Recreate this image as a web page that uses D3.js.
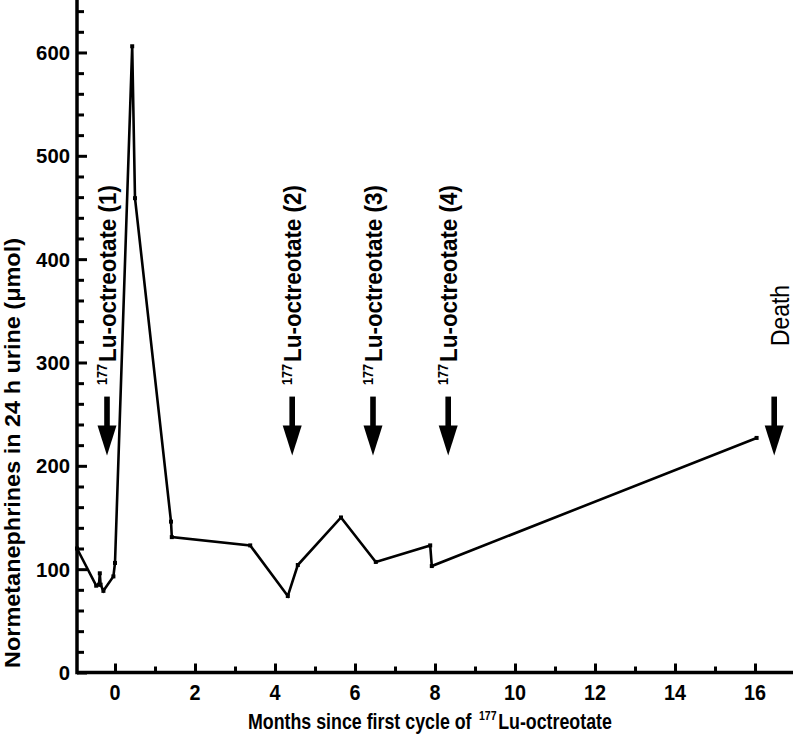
<!DOCTYPE html>
<html>
<head>
<meta charset="utf-8">
<script src="https://cdn.jsdelivr.net/npm/d3@7"></script>
<style>
  html, body { margin: 0; padding: 0; background: #fff; }
  svg { display: block; }
  .lbl { font-family: "Liberation Sans Narrow", "Arial Narrow", "Liberation Sans", Arial, sans-serif; font-weight: bold; fill: #000; }
  .tk { font-family: "Liberation Sans", Arial, sans-serif; font-weight: bold; fill: #000; }
</style>
</head>
<body>
<svg id="chart" width="793" height="741"></svg>
<script>
// ---- data ----
const months = [-0.95, -0.47, -0.40, -0.38, -0.36, -0.29, -0.04, 0.0, 0.43, 0.50, 1.40, 1.42, 3.38, 4.32, 4.57, 5.65, 6.52, 7.88, 7.92, 16.04];
const values = [120, 84, 85, 96, 85, 79, 93, 106, 606, 459, 146, 131, 123, 74, 104, 150, 107, 123, 103, 227];
const eventMonths = [-0.2, 4.43, 6.45, 8.33];
const eventLabels = ["(1)", "(2)", "(3)", "(4)"];
const deathMonth = 16.48;
const deathLabel = "Death";
const arrowValues = [267, 210]; // arrow top / tip in µmol units
const xMajorTicks = [0, 2, 4, 6, 8, 10, 12, 14, 16];
const xMinorTicks = [1, 3, 5, 7, 9, 11, 13, 15];
const yMajorTicks = [0, 100, 200, 300, 400, 500, 600];
const yMinorTicks = d3.range(0, 641, 20).filter(v => v % 100 !== 0);
const xTitle = ["Months since first cycle of", "177", "Lu-octreotate"];
const yTitle = "Normetanephrines in 24 h urine (\u03BCmol)";

// ---- scales ----
const svg = d3.select("#chart");
const x = d3.scaleLinear().domain([-0.95, 16.95]).range([77, 793]);
const y = d3.scaleLinear().domain([0, 650]).range([672.5, 0.8]);

const axisG = svg.append("g");

// axis lines
axisG.append("line").attr("x1", x(-0.95)).attr("x2", x(16.95)).attr("y1", y(0)).attr("y2", y(0))
  .attr("stroke", "#000").attr("stroke-width", 3.5);
axisG.append("line").attr("x1", x(-0.95)).attr("x2", x(-0.95)).attr("y1", y(0) + 1.7).attr("y2", 0)
  .attr("stroke", "#000").attr("stroke-width", 3.5);

// x ticks (inward)
const xAxisMajor = d3.axisTop(x).tickValues(xMajorTicks).tickSize(9).tickFormat("");
const xAxisMinor = d3.axisTop(x).tickValues(xMinorTicks).tickSize(6).tickFormat("");
[xAxisMajor, xAxisMinor].forEach(ax => {
  const g = axisG.append("g").attr("transform", `translate(0,${y(0)})`).call(ax);
  g.select(".domain").remove();
  g.selectAll(".tick line").attr("stroke", "#000").attr("stroke-width", 3);
});
// y ticks (inward)
const yAxisMajor = d3.axisRight(y).tickValues(yMajorTicks).tickSize(10).tickFormat("");
const yAxisMinor = d3.axisRight(y).tickValues(yMinorTicks).tickSize(7).tickFormat("");
[yAxisMajor, yAxisMinor].forEach(ax => {
  const g = axisG.append("g").attr("transform", `translate(${x(-0.95)},0)`).call(ax);
  g.select(".domain").remove();
  g.selectAll(".tick line").attr("stroke", "#000").attr("stroke-width", 3);
});

// tick labels
axisG.selectAll(".xl").data(xMajorTicks).enter().append("text")
  .attr("class", "lbl").attr("x", d => x(d)).attr("y", 700)
  .attr("text-anchor", "middle").attr("font-size", 22)
  .attr("textLength", d => String(d).length * 11).attr("lengthAdjust", "spacingAndGlyphs")
  .text(d => d);
axisG.selectAll(".yl").data(yMajorTicks).enter().append("text")
  .attr("class", "tk").attr("x", 70).attr("y", d => y(d) + 7.5)
  .attr("text-anchor", "end").attr("font-size", 20)
  .attr("textLength", d => String(d).length * 11.3).attr("lengthAdjust", "spacingAndGlyphs")
  .text(d => d);

// x title: three pieces laid out by measured width, then the group is squeezed horizontally
const xtOuter = svg.append("g").attr("transform", "translate(248,729)");
const xt = xtOuter.append("g");
const sizes = [22, 13, 22], dys = [0, -9, 0];
let cursor = 0;
const gaps = [9, 2, 0];
xTitle.forEach((s, i) => {
  const t = xt.append("text").attr("class", "lbl").attr("x", cursor).attr("y", dys[i])
    .attr("font-size", sizes[i]).text(s);
  cursor += t.node().getComputedTextLength() + gaps[i];
});
xt.attr("transform", `scale(${364 / cursor},1)`);

svg.append("text").attr("class", "tk")
  .attr("transform", "translate(20,668) rotate(-90)")
  .attr("font-size", 22).attr("textLength", 430).attr("lengthAdjust", "spacingAndGlyphs")
  .text(yTitle);

// ---- data line ----
const pts = months.map((m, i) => [m, values[i]]);
svg.append("path").datum(pts)
  .attr("d", d3.line().x(d => x(d[0])).y(d => y(d[1])))
  .attr("fill", "none").attr("stroke", "#000").attr("stroke-width", 2.6).attr("stroke-linejoin", "miter");
svg.selectAll(".mk").data(pts).enter().append("rect")
  .attr("x", d => x(d[0]) - 2).attr("y", d => y(d[1]) - 2).attr("width", 4).attr("height", 4).attr("fill", "#000");

// ---- arrows ----
function arrow(m) {
  const cx = x(m), top = y(arrowValues[0]), tip = y(arrowValues[1]);
  const headStart = tip - 30;
  svg.append("rect").attr("x", cx - 2.8).attr("y", top).attr("width", 5.6).attr("height", headStart - top + 1).attr("fill", "#000");
  svg.append("path").attr("d", `M${cx - 9.5},${headStart} L${cx + 9.5},${headStart} L${cx},${tip} Z`).attr("fill", "#000");
}
eventMonths.forEach((m, i) => {
  arrow(m);
  const g = svg.append("g").attr("transform", `translate(${x(m) + 9},385) rotate(-90)`);
  g.append("text").attr("class", "lbl").attr("x", 0).attr("y", -9).attr("font-size", 14)
    .attr("textLength", 21).attr("lengthAdjust", "spacingAndGlyphs").text("177");
  g.append("text").attr("class", "lbl").attr("x", 23).attr("y", 0).attr("font-size", 23)
    .attr("textLength", 177).attr("lengthAdjust", "spacingAndGlyphs").text("Lu-octreotate " + eventLabels[i]);
});
arrow(deathMonth);
svg.append("text")
  .attr("transform", `translate(${x(deathMonth) + 15},346) rotate(-90)`)
  .attr("font-family", "'Liberation Sans Narrow', 'Arial Narrow', 'Liberation Sans', Arial, sans-serif")
  .attr("font-size", 25).attr("textLength", 61).attr("lengthAdjust", "spacingAndGlyphs")
  .text(deathLabel);
</script>
</body>
</html>
